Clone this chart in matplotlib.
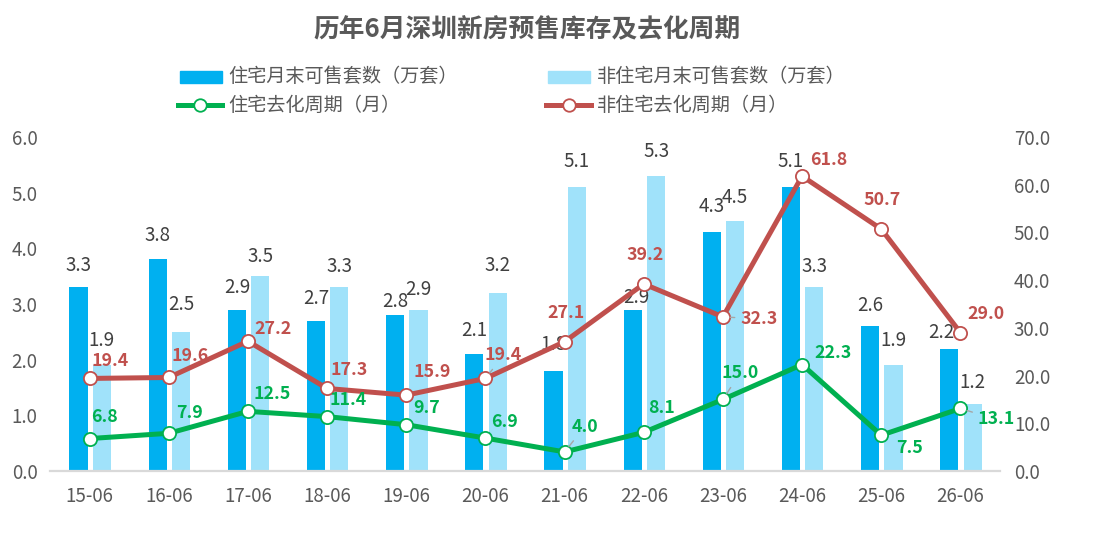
import matplotlib
matplotlib.use("Agg")
import matplotlib.pyplot as plt
from matplotlib.patches import Rectangle
from matplotlib.lines import Line2D
import numpy as np

plt.rcParams['font.family'] = ['Noto Sans CJK SC', 'DejaVu Sans']

# ---- data ----
categories = ["15-06", "16-06", "17-06", "18-06", "19-06", "20-06",
              "21-06", "22-06", "23-06", "24-06", "25-06", "26-06"]
res_stock = [3.3, 3.8, 2.9, 2.7, 2.8, 2.1, 1.8, 2.9, 4.3, 5.1, 2.6, 2.2]
nonres_stock = [1.9, 2.5, 3.5, 3.3, 2.9, 3.2, 5.1, 5.3, 4.5, 3.3, 1.9, 1.2]
res_cycle = [6.8, 7.9, 12.5, 11.4, 9.7, 6.9, 4.0, 8.1, 15.0, 22.3, 7.5, 13.1]
nonres_cycle = [19.4, 19.6, 27.2, 17.3, 15.9, 19.4, 27.1, 39.2, 32.3, 61.8, 50.7, 29.0]
left_ticks = [0, 1, 2, 3, 4, 5, 6]
right_ticks = [0, 10, 20, 30, 40, 50, 60, 70]

title = "历年6月深圳新房预售库存及去化周期"
legend_labels = ["住宅月末可售套数（万套）", "非住宅月末可售套数（万套）",
                 "住宅去化周期（月）", "非住宅去化周期（月）"]

# ---- label offsets (pixels, image coords: +y = down) ----
res_off = [(0, -22), (0, -24), (0, -22), (0, -22), (0, -14), (0, -24),
           (0, -26), (4, -12), (0, -25), (0, -26), (0, -21), (-8, -16)]
nonres_off = [(0, -25), (0, -27), (0, -20), (0, -21), (0, -20), (0, -27),
              (0, -26), (0, -24), (0, -23), (0, -21), (0, -25), (0, -22)]
rc_off = [(15, -22), (21, -20), (24, -17), (21, -17), (20, -17), (19, -16),
          (20, -25), (18, -24), (17, -26), (31, -12), (28, 13), (36, 11)]
nc_off = [(21, -17), (21, -21), (25, -12), (22, -18), (26, -23), (18, -23),
          (1, -29), (1, -29), (36, 2), (27, -16), (1, -29), (26, -19)]
rc_leader = [False]*6 + [True, False, True, False, False, True]
nc_leader = [False]*5 + [True, False, False, True, False, False, False]

C_DARK = "#00B0F0"
C_LIGHT = "#A0E2FA"
C_GREEN = "#00B050"
C_RED = "#C0504D"
C_TXT = "#404040"
C_AX = "#595959"

FS_TICK = 13.5
FS_BAR = 13.5
FS_LINE = 12.8

W, H = 1119, 551
fig = plt.figure(figsize=(W/100, H/100), dpi=100)
ax = fig.add_axes([50/W, (H-471)/H, 950/W, 334/H])
ax2 = ax.twinx()

x = np.arange(len(categories))
bw = 0.23
xd = x - 0.14
xl = x + 0.155
ax.bar(xd, res_stock, width=bw, color=C_DARK, zorder=2)
ax.bar(xl, nonres_stock, width=bw, color=C_LIGHT, zorder=2)

ax.set_xlim(-0.5, 11.5)
ax.set_ylim(0, 6)
ax.set_yticks(left_ticks)
ax.set_yticklabels([f"{v:.1f}" for v in left_ticks])
ax.set_xticks(x)
ax.set_xticklabels(categories)
ax2.set_ylim(0, 70)
ax2.set_yticks(right_ticks)
ax2.set_yticklabels([f"{v:.1f}" for v in right_ticks])

for a in (ax, ax2):
    for s in a.spines.values():
        s.set_visible(False)
ax.spines['bottom'].set_visible(True)
ax.spines['bottom'].set_color("#D9D9D9")
ax.spines['bottom'].set_linewidth(1.6)
ax.tick_params(axis='y', length=0, pad=9, labelsize=FS_TICK, labelcolor=C_AX)
ax.tick_params(axis='x', length=0, pad=11, labelsize=FS_TICK, labelcolor=C_AX)
ax2.tick_params(axis='y', length=0, pad=10, labelsize=FS_TICK, labelcolor=C_AX)

for xi, v, (dx, dy) in zip(xd, res_stock, res_off):
    ax.annotate(f"{v:.1f}", xy=(xi, v), xytext=(dx, -dy), textcoords='offset pixels',
                ha='center', va='center', fontsize=FS_BAR, color=C_TXT, zorder=3)
for xi, v, (dx, dy) in zip(xl, nonres_stock, nonres_off):
    ax.annotate(f"{v:.1f}", xy=(xi, v), xytext=(dx, -dy), textcoords='offset pixels',
                ha='center', va='center', fontsize=FS_BAR, color=C_TXT, zorder=3)

ax2.plot(x, nonres_cycle, color=C_RED, lw=3.6, marker='o', ms=9.5,
         mfc='white', mec=C_RED, mew=1.3, zorder=4)
ax2.plot(x, res_cycle, color=C_GREEN, lw=3.6, marker='o', ms=9.5,
         mfc='white', mec=C_GREEN, mew=1.3, zorder=4)

for xi, v, (dx, dy), ld in zip(x, res_cycle, rc_off, rc_leader):
    ap = dict(arrowstyle='-', color='#A6A6A6', lw=1.0, shrinkA=2, shrinkB=5) if ld else None
    ax2.annotate(f"{v:.1f}", xy=(xi, v), xytext=(dx, -dy), textcoords='offset pixels',
                 ha='center', va='center', fontsize=FS_LINE, fontweight='bold',
                 color=C_GREEN, zorder=5, arrowprops=ap)
for xi, v, (dx, dy), ld in zip(x, nonres_cycle, nc_off, nc_leader):
    ap = dict(arrowstyle='-', color='#A6A6A6', lw=1.0, shrinkA=2, shrinkB=5) if ld else None
    ax2.annotate(f"{v:.1f}", xy=(xi, v), xytext=(dx, -dy), textcoords='offset pixels',
                 ha='center', va='center', fontsize=FS_LINE, fontweight='bold',
                 color=C_RED, zorder=5, arrowprops=ap)

# ---- title ----
fig.text(527/W, 1-30/H, title, ha='center', va='center', fontsize=18.5,
         fontweight='bold', color=C_AX)

# ---- legend (manual) ----
def fy(py):
    return 1 - py/H

r1, r2 = 77, 105
fig.patches.append(Rectangle((180/W, fy(r1+6)), 42/W, 12/H, transform=fig.transFigure,
                             color=C_DARK))
fig.patches.append(Rectangle((548/W, fy(r1+6)), 42/W, 12/H, transform=fig.transFigure,
                             color=C_LIGHT))
fig.lines.append(Line2D([178/W, 222/W], [fy(r2), fy(r2)], transform=fig.transFigure,
                        color=C_GREEN, lw=3.6))
fig.lines.append(Line2D([200/W], [fy(r2)], transform=fig.transFigure, marker='o', ms=9,
                        mfc='white', mec=C_GREEN, mew=1.3, lw=0))
fig.lines.append(Line2D([546/W, 591/W], [fy(r2), fy(r2)], transform=fig.transFigure,
                        color=C_RED, lw=3.6))
fig.lines.append(Line2D([569/W], [fy(r2)], transform=fig.transFigure, marker='o', ms=9,
                        mfc='white', mec=C_RED, mew=1.3, lw=0))
FS_LEG = 13.8
fig.text(228/W, fy(r1), legend_labels[0], ha='left', va='center', fontsize=FS_LEG, color=C_AX)
fig.text(597/W, fy(r1), legend_labels[1], ha='left', va='center', fontsize=FS_LEG, color=C_AX)
fig.text(228/W, fy(r2), legend_labels[2], ha='left', va='center', fontsize=FS_LEG, color=C_AX)
fig.text(597/W, fy(r2), legend_labels[3], ha='left', va='center', fontsize=FS_LEG, color=C_AX)

fig.savefig("out.png", dpi=100, facecolor='white')
